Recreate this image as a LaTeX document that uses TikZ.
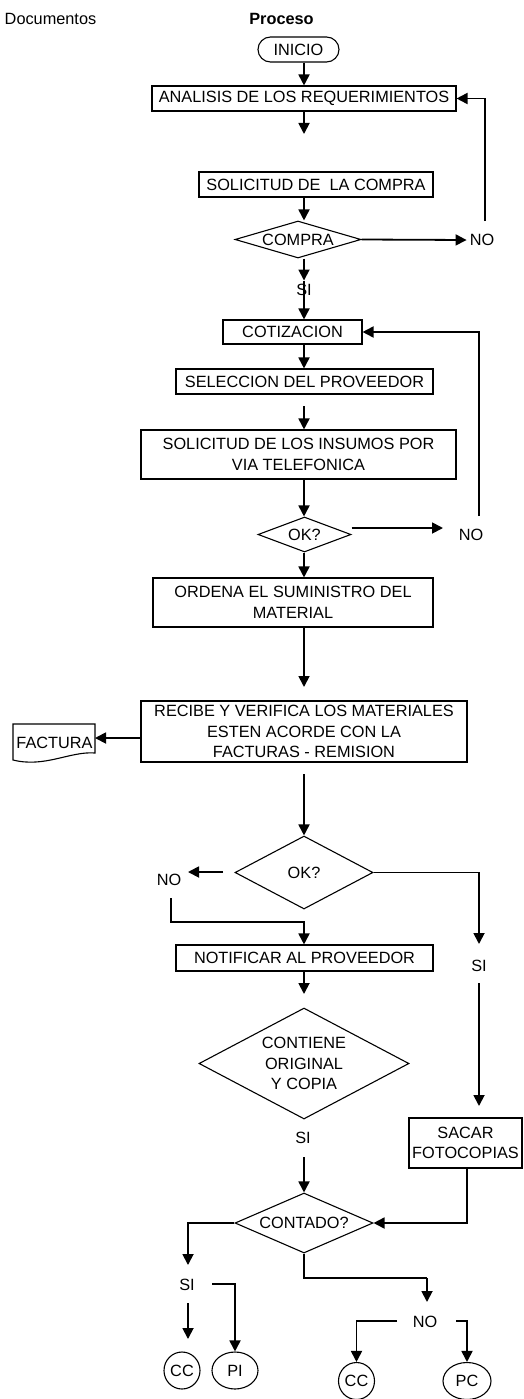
\documentclass[tikz,border=0pt]{standalone}
\usepackage{fontspec}
\setmainfont{Liberation Sans}
\usetikzlibrary{arrows.meta,shapes.geometric}
\begin{document}
\begin{tikzpicture}[x=1pt,y=-1pt,
  font=\fontsize{16.3}{20.5}\selectfont,
  box/.style={draw,line width=1.1pt,inner sep=0pt,align=center},
  dec/.style={draw,diamond,line width=1.1pt,inner sep=0pt,align=center},
  term/.style={draw,ellipse,line width=1.1pt,inner sep=0pt},
  lbl/.style={inner sep=0pt},
  arr/.style={line width=1.8pt,-{Triangle[length=11pt,width=11pt]}},
  ln/.style={line width=1.8pt}]

% page
\fill[white] (0,0) rectangle (523,1399);
\useasboundingbox (0,0) rectangle (523,1399);

% column headings
\node[lbl] (docs) at (50.5,19) {Documentos};
\node[lbl,font=\fontsize{16.3}{20.5}\selectfont\bfseries] (proc) at (281.5,19) {Proceso};

% process steps
\node[box,rounded corners=12.5pt,minimum width=81pt,minimum height=25pt] (ini) at (298.5,49.5) {INICIO};
\node[box,minimum width=304pt,minimum height=25pt] (ana) at (304,98.5) {ANALISIS DE LOS REQUERIMIENTOS};
\node[box,minimum width=234pt,minimum height=25pt] (sol) at (316,184.5) {SOLICITUD DE\ \ LA COMPRA};
\node[dec,aspect=3.4,minimum width=126pt,minimum height=37pt] (comp) at (298,239.5) {COMPRA};
\node[lbl] (no1) at (482,240) {NO};
\node[lbl] (si1) at (304,289.5) {SI};
\node[box,minimum width=139pt,minimum height=24pt] (coti) at (292.5,332) {COTIZACION};
\node[box,minimum width=257pt,minimum height=25pt] (sel) at (304.5,381.5) {SELECCION DEL PROVEEDOR};
\node[box,minimum width=315pt,minimum height=49pt] (ins) at (298.5,454.5) {SOLICITUD DE LOS INSUMOS POR\\VIA TELEFONICA};
\node[dec,aspect=2.66,minimum width=93pt,minimum height=35pt] (ok1) at (304.5,534.5) {OK?};
\node[lbl] (no2) at (471,535) {NO};
\node[box,minimum width=280pt,minimum height=49pt] (ord) at (293,602.5) {ORDENA EL SUMINISTRO DEL\\MATERIAL};
\node[box,minimum width=326pt,minimum height=61pt] (rec) at (304,731.5) {RECIBE Y VERIFICA LOS MATERIALES\\ESTEN ACORDE CON LA\\FACTURAS - REMISION};

% document symbol
\draw[line width=1.1pt] (13,724) -- (95,724) -- (95,753)
  .. controls (70,751) and (45,768) .. (13,760) -- cycle;
\node[lbl] (fac) at (54.5,743) {FACTURA};

\node[dec,aspect=1.9,minimum width=138pt,minimum height=73pt] (ok2) at (304,872.5) {OK?};
\node[lbl] (no3) at (169,880) {NO};
\node[lbl] (si2) at (479,966) {SI};
\node[box,minimum width=257pt,minimum height=26pt] (noti) at (304.5,958) {NOTIFICAR AL PROVEEDOR};
\node[dec,aspect=1.9,minimum width=210pt,minimum height=111pt] (cont) at (304,1063.5) {CONTIENE\\ORIGINAL\\Y COPIA};
\node[lbl] (si3) at (303,1138) {SI};
\node[box,minimum width=113pt,minimum height=50pt] (sac) at (465.5,1143) {SACAR\\FOTOCOPIAS};
\node[dec,aspect=2.3,minimum width=138pt,minimum height=60pt] (cnt) at (304,1223) {CONTADO?};
\node[lbl] (si4) at (187,1285) {SI};
\node[lbl] (no4) at (425,1322) {NO};
\node[term,minimum width=36pt,minimum height=37pt] (cc1) at (182,1370.5) {CC};
\node[term,minimum width=46pt,minimum height=37pt] (pi) at (235,1370.5) {PI};
\node[term,minimum width=36pt,minimum height=37pt] (cc2) at (356.5,1381) {CC};
\node[term,minimum width=48pt,minimum height=37pt] (pc) at (467,1381) {PC};

% free ends of the connectors
\coordinate (a1) at (304,134);
\coordinate (n1top) at (485,221);
\coordinate (n2top) at (479,516);
\coordinate (s1) at (304,406);
\coordinate (n2a) at (443,528);
\coordinate (r1) at (304,687);
\coordinate (facR) at (95,738);
\coordinate (r2) at (304,774);
\coordinate (o2a) at (223,872);
\coordinate (o2b) at (188,872);
\coordinate (n3a) at (171,898);
\coordinate (j1) at (304,922);
\coordinate (s2a) at (479,944);
\coordinate (c1) at (304,994);
\coordinate (s2b) at (479,983);
\coordinate (s2c) at (479,1106);
\coordinate (s3a) at (304,1157);
\coordinate (sa) at (188,1265);
\coordinate (sb) at (188,1303);
\coordinate (sc) at (188,1339);
\coordinate (sd) at (212,1284);
\coordinate (j2) at (427,1278);
\coordinate (nn) at (427,1302);
\coordinate (nl) at (397,1321);
\coordinate (nr) at (456,1321);

% connectors
\draw[arr] (ini.south -| ana.north) -- (ana.north);
\draw[arr] (ana.south -| a1) -- (a1);
\draw[arr] (sol.south -| a1) -- (comp.north -| a1);
\draw[arr] (comp.east) -- ([xshift=-3pt]no1.west);
\draw[arr] (n1top) |- (ana.east);
\draw[arr] (comp.south -| a1) -- ([yshift=3pt]si1.north);
\draw[arr] ([yshift=3pt]si1.north) -- (coti.north -| a1);
\draw[arr] (n2top) |- (coti.east);
\draw[arr] (coti.south -| a1) -- (sel.north -| a1);
\draw[arr] (s1) -- (ins.north -| a1);
\draw[arr] (ins.south -| a1) -- (ok1.north -| a1);
\draw[arr] (ok1.east |- n2a) -- (n2a);
\draw[arr] (ok1.south -| a1) -- (ord.north -| a1);
\draw[arr] (ord.south -| r1) -- (r1);
\draw[arr] (rec.west |- facR) -- (facR);
\draw[arr] (r2) -- (ok2.north);
\draw[arr] (o2a) -- (o2b);
\draw[arr] (n3a) |- (j1) -- (noti.north -| j1);
\draw[arr] (ok2.east) -| (s2a);
\draw[arr] (noti.south -| c1) -- (c1);
\draw[arr] (s2b) -- (s2c);
\draw[arr] (s3a) -- (cnt.north);
\draw[arr] ([xshift=1.5pt]sac.south) |- (cnt.east);
\draw[arr] (cnt.west) -| (sa);
\draw[arr] (sb) -- (sc);
\draw[arr] (sd) -| (pi.north);
\draw[ln] (cnt.south) |- (j2);
\draw[arr] (j2) -- (nn);
\draw[arr] (nl) -| (cc2.north);
\draw[arr] (nr) -| (pc.north);
\end{tikzpicture}
\end{document}
